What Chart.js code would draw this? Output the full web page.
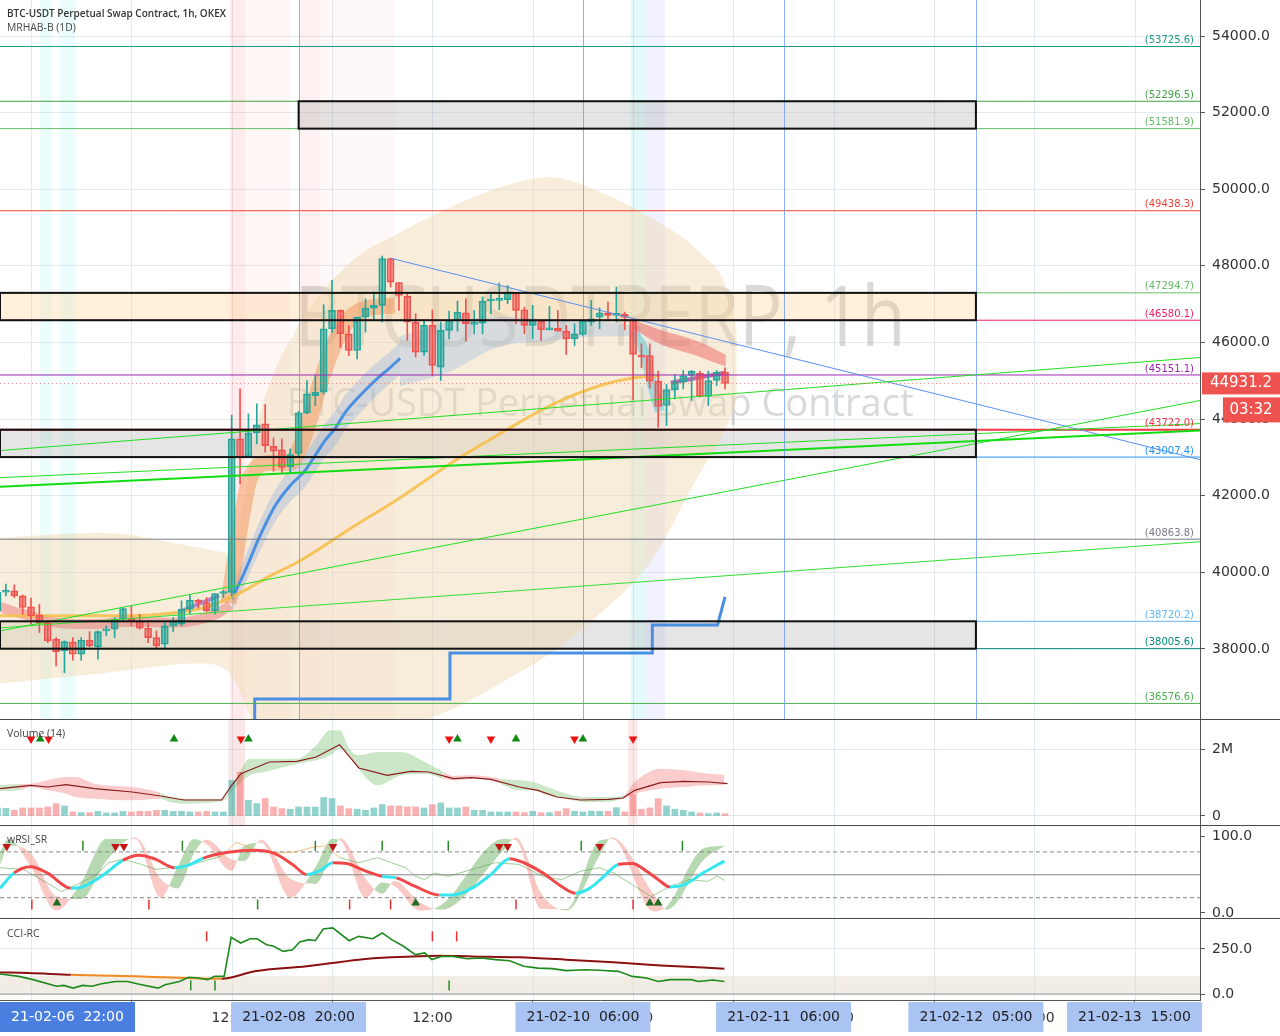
<!DOCTYPE html>
<html><head><meta charset="utf-8">
<script src="https://cdn.jsdelivr.net/npm/chart.js@4.4.1/dist/chart.umd.min.js"></script>
<style>
body{margin:0;background:#fff;}
#wrap{position:relative;width:1280px;height:1036px;overflow:hidden;background:#fff;font-family:"Open Sans","Liberation Sans",sans-serif;}
canvas{position:absolute;left:0;}
.lbl{position:absolute;left:7px;font-size:10.5px;color:#444;z-index:5;white-space:nowrap;transform-origin:0 0;}
.sep{position:absolute;left:0;width:1280px;height:1px;background:#4a4a4a;z-index:6;}
</style></head><body>
<div id="wrap">
<canvas id="cMain" width="1280" height="719" style="top:0px"></canvas>
<canvas id="cVol" width="1280" height="105" style="top:720px"></canvas>
<canvas id="cRsi" width="1280" height="93" style="top:826px"></canvas>
<canvas id="cCci" width="1280" height="118" style="top:918px"></canvas>
<div class="sep" style="top:719px"></div>
<div class="sep" style="top:825px"></div>
<div class="sep" style="top:918px"></div>
<div class="lbl" style="top:5px;font-weight:600;color:#333;font-size:11.5px;transform:scaleX(0.87)">BTC-USDT Perpetual Swap Contract, 1h, OKEX</div>
<div class="lbl" style="top:19px;font-size:11.5px;transform:scaleX(0.9)">MRHAB-B (1D)</div>
<div class="lbl" style="top:726px">Volume (14)</div>
<div class="lbl" style="top:832px">wRSI_SR</div>
<div class="lbl" style="top:926px">CCI-RC</div>
</div>
<script>
// ---------- axis window (hours since 21-02-07 00:00) ----------
const XMIN = 8.29, XMAX = 151.8;

// ---------- candles ----------
const candleHours = [8,9,10,11,12,13,14,15,16,17,18,19,20,21,22,23,24,25,26,27,28,29,30,31,32,33,34,35,36,37,38,39,40,41,42,43,44,45,46,47,48,49,50,51,52,53,54,55,56,57,58,59,60,61,62,63,64,65,66,67,68,69,70,71,72,73,74,75,76,77,78,79,80,81,82,83,84,85,86,87,88,89,90,91,92,93,94,95];
const opens  = [39000,39480,39516,39385,39098,38880,38688,38252,37947,38183,37860,38226,38052,38470,38514,38775,38800,38732,38540,38296,38122,38601,38645,39037,39272,39211,38993,39446,39473,43481,43019,43638,43873,43289,43194,42757,43106,44161,44614,44700,46357,46836,46227,45791,46662,46897,46967,48187,47560,47211,46532,45747,46444,45355,46314,46575,46776,46470,46505,47080,47100,47115,47290,46854,46444,46557,46330,46370,46296,46095,46209,46531,46662,46776,46706,46732,46593,45660,45660,44989,44353,44763,44963,45137,45198,44588,45006,45225];
const highs  = [39550,39690,39673,39412,39324,39168,38732,38296,38209,38296,38296,38453,38470,38601,38819,39080,39124,38906,38688,38470,38688,38819,39255,39412,39298,39342,39446,39534,44100,44788,44135,44396,44379,43507,43481,43220,44200,45006,45137,46985,47621,46850,46444,46662,47142,47316,48257,48200,47560,47272,46750,46575,46854,46532,46819,47080,47141,46836,47185,47272,47551,47490,47290,46923,46967,46557,46941,46836,46444,46488,46575,47098,46906,47055,47447,46793,46593,45965,45965,45251,44902,45163,45268,45268,45251,45251,45268,45338];
const lows   = [38950,39385,39342,38906,38645,38427,38165,37555,37381,37703,37703,38052,37730,38340,38296,38732,38601,38514,38165,38017,38017,38453,38601,38906,39063,38976,38906,39342,39380,42304,43019,43350,43133,42636,42609,42609,43045,44135,44353,44650,46253,45878,45660,45573,46270,46619,46532,47447,46837,46052,45617,45660,45137,45006,46095,46296,46035,46226,46226,46749,46854,47011,46488,46226,46095,46052,46330,46296,45686,45921,46183,46444,46357,46619,46532,46331,44501,45338,44815,43786,43830,44527,44789,44484,44571,44353,44876,44789];
const closes = [39480,39510,39385,39080,38862,38688,38209,37930,38191,37860,38226,38078,38453,38514,38775,39054,38740,38540,38296,38078,38601,38732,39037,39272,39211,38993,39446,39473,43481,43002,43638,43847,43307,43159,42740,43071,44161,44657,44700,46357,46836,46227,45791,46662,46897,46967,48187,47577,47229,46532,45747,46444,45399,46314,46575,46793,46488,46505,47080,47100,47115,47290,46836,46444,46575,46331,46357,46296,46095,46226,46557,46619,46776,46706,46750,46662,45686,45617,44989,44327,44763,44963,45137,45250,44588,45006,45225,44931.2];
const volumes = [240,230,170,240,240,240,270,370,300,120,100,100,140,90,90,140,120,140,140,170,170,140,140,120,120,140,120,120,1060,1310,470,370,520,270,220,200,270,270,270,550,520,300,220,200,170,240,340,300,300,270,270,240,340,390,240,240,270,170,170,120,120,120,120,100,140,100,100,140,220,140,120,140,140,140,250,120,640,200,240,520,300,200,170,120,90,70,90,70];
const LAST_PRICE = 44931.2;
const priceTicks = [38000, 40000, 42000, 44000, 46000, 48000, 50000, 52000, 54000];

// ---------- price levels / boxes ----------
const levels      = [53725.6, 52296.5, 51581.9, 49438.3, 47294.7, 46580.1, 45151.1, 43722.0, 43007.4, 40863.8, 38720.2, 38005.6, 36576.6];
const levelColors = ['#1a9a86','#43a047','#66bb6a','#f44336','#66bb6a','#e91e63','#9c27b0','#f23645','#2196f3','#787b86','#64b5f6','#00897b','#4caf50'];
const boxTop    = [52296.5, 47294.7, 43722.0, 38720.2];
const boxBottom = [51581.9, 46580.1, 43007.4, 38005.6];
const boxStart  = [44, XMIN, XMIN, XMIN];
const boxEnd    = [125, 125, 125, 125];
const boxFill   = ['rgba(160,160,160,0.28)','rgba(255,200,130,0.28)','rgba(160,160,160,0.28)','rgba(160,160,160,0.28)'];

// ---------- overlays (hour, price) ----------
const blobHours = [8.3, 20.3, 32.2, 35.8, 39.4, 44.2, 50.2, 56.1, 62.1, 68.1, 74.1, 80.1, 86.0, 92.0, 95.4, 96.4];
const blobTop   = [40900,41030,40640,40510,44170,46520,48090,48870,49530,50050,50310,49920,49270,48350,47300,46300];
const blobBot   = [37100,37360,37620,37360,36000,36000,36000,36000,36400,37100,37880,38930,40240,42590,43900,44500];

const blueHours = [36.04,37.6,39.39,41.19,42.98,44.77,45.97,47.16,48.36,49.56,51.35,53.15,54.94,56.14];
const bluePrice = [39307,40039,40954,41738,42261,42653,43046,43438,43752,44170,44614,45006,45346,45582];
const blueHi    = [39620,40400,41350,42150,42680,43080,43480,43880,44200,44620,45060,45440,45760,46000];
const blueLo    = [39000,39700,40560,41320,41840,42220,42610,43000,43300,43720,44160,44570,44930,45160];
const shadeHours = [56.1, 62.1, 68.1, 74.1, 80.1, 84.9];
const shadeHi    = [46160,46550,46680,46600,46550,46420];
const shadeLo    = [44850,45240,45900,46030,46160,46160];

const yellowHours = [8.29,20.25,32.22,37.0,40.59,44.18,50.16,56.14,62.12,68.1,74.08,80.06,83.65,87.24];
const yellowPrice = [38863,38863,39046,39464,39908,40300,41137,41947,42836,43621,44353,44876,45059,45137];

const orangeHours = [35.6,37.0,38.2,40.6,43.0,44.8,46.6,48.4,50.2,52.6,55.5];
const orangePrice = [39200,41160,42470,42860,42860,43640,44950,46000,46650,46910,46960];
const pinkHours = [8.3,10.0,12.0,14.0,17.0,20.0,23.0,26.0,29.0,32.0,34.5,35.8];
const pinkPrice = [39100,38970,38860,38730,38650,38650,38700,38700,38680,38760,38950,39150];
const cyanHours = [84.0,85.2,86.4,87.2];
const cyanPrice = [46240,45850,44800,44200];

const redRibHours = [83.9,87.1,91.9,95.1];
const redRibHi    = [46600,46340,46020,45680];
const redRibLo    = [46370,45970,45630,45370];
const purpleHours = [88.5, 95.0];
const purplePrice = [44950, 45210];
const purple2Hours = [29.8, 34.5];
const purple2Price = [38970, 39390];

const trendStart = [[XMIN,43177],[XMIN,42235],[XMIN,42470],[XMIN,38470],[XMIN,38549],[55,48200]];
const trendEnd   = [[XMAX,45608],[XMAX,43699],[XMAX,43882],[XMAX,44484],[XMAX,40797],[XMAX,42940]];
const trendColor = ['#22dd22','#11dd11','#22dd22','#22dd22','#33dd33','#5b8ff0'];
const trendWidth = [1,2,1,1,1,1];

const stepHours  = [38.75, 38.75, 62.1, 62.1, 86.3, 86.3, 94.1, 95.0];
const stepPrice  = [35500, 36693, 36693, 37895, 37895, 38627, 38627, 39359];

const markerHours = [-2, 44, 78, 102, 125, 159];
const markerText  = ['21-02-06  22:00','21-02-08  20:00','21-02-10  06:00','21-02-11  06:00','21-02-12  05:00','21-02-13  15:00'];
const timeTickHours = [12, 36, 60, 84, 108, 132];
const timeTickText  = ['12:00','12:00','12:00','12:00','12:00','12:00'];

const stripes = [[35.8,37.6,'rgba(255,60,60,0.10)'],[37.6,43.0,'rgba(255,80,80,0.05)'],[44.2,46.6,'rgba(255,80,80,0.08)'],[46.6,55.5,'rgba(255,80,80,0.04)'],[13.1,14.5,'rgba(0,230,230,0.08)'],[15.5,17.3,'rgba(0,230,230,0.08)'],[83.7,85.5,'rgba(0,220,220,0.10)'],[85.5,87.8,'rgba(120,120,255,0.10)']];

// ---------- volume pane ----------
const volMaHours = [8.3,12,14,16.2,19.6,24.1,27.5,30.3,34.8,36,37.1,40.5,43.8,46.1,48.9,51.2,54.6,57.4,59.6,62.5,64.7,67,70.4,72.6,74.9,77.7,81.1,82.8,84.2,87.3,90.1,93,95.3];
const volMa      = [816,915,866,935,816,716,597,478,478,915,1264,1612,1632,1761,2129,1433,1214,1333,1313,1114,1144,1094,866,766,567,478,497,537,766,995,1035,1015,965];
const volBandHours = [8.29,10.55,11.96,13.94,16.19,17.32,19.58,24.09,27.48,28.61,30.3,34.81,35.94,38.2,39.89,43.84,46.1,47.79,48.92,50.05,51.18,53.44,56.26,59.08,61.34,62.47,64.73,66.99,68.12,70.37,72.07,73.76,76.01,78.27,80.53,82.79,84.2,87.3,90.12,92.94,94.92];
const volBandHi = [915,955,965,1065,1164,1164,965,866,697,567,517,517,816,1711,1711,1711,2109,2557,2557,2010,1811,1910,1910,1612,1313,1194,1214,1164,1114,1065,1015,866,667,567,567,597,1015,1411,1363,1264,1234];
const volBandLo = [736,766,866,766,667,567,517,468,517,418,368,438,716,1214,1313,1562,1662,1811,2010,1811,1413,915,1214,1264,1114,1065,1114,1065,965,766,766,617,517,418,418,517,667,816,866,915,915];
const volBandUp = [1,0,0,0,0,0,0,0,1,1,1,1,1,1,1,1,1,1,1,1,1,1,1,1,0,0,0,0,1,1,1,1,1,1,1,0,0,0,0,0,0];
const volSigHours = [12,13.1,14.1,29.1,37.1,38,62,63,67,70,77,78,84];
const volSigUp    = [0,1,0,1,0,1,0,1,0,1,0,1,0];
const volStripes = [[35.6,37.6],[83.4,84.5]];

// ---------- wRSI pane ----------
const rsiHours = [8.29,9.99,11.96,13.93,16.76,17.89,20.71,22.97,24.94,26.92,29.18,30.87,32.56,35.38,38.77,41.02,43.28,44.97,46.67,48.08,49.77,51.75,54.0,55.7,57.96,60.78,62.47,64.73,66.99,69.24,70.93,73.19,75.45,77.14,78.84,80.53,82.22,83.92,85.61,87.02,88.43,90.13,92.38,94.92];
const rsiValue = [32.5,52.5,60.5,52.5,32.5,33.4,50.3,68.9,75.6,70.3,59.2,62.7,71.6,79.1,82.2,78.3,63.6,50.3,56.1,65.8,64.9,56.1,48.1,45.9,34.7,23.6,23.6,32.5,50.3,71.2,65.8,52.5,34.7,25.9,32.5,48.1,63.6,64.9,54.7,43.6,33.9,37.0,52.5,68.0];
const rsiRed   = [0,1,1,1,0,0,0,1,1,1,0,0,1,1,1,1,1,0,0,1,1,1,0,1,1,0,0,0,0,1,1,1,1,0,0,0,1,1,1,1,0,0,0,0];
const fastHours = [8.3,9.3,12,15,18,21,24.5,27.5,29.5,31.5,33,36,37.5,39.5,43,46,48,49,52,54,55.5,58.5,61,68.5,70,73,76,80,81.5,86.5,88,92.5,95];
const fastA     = [80,97,60,3,40,97,97,20,60,97,90,55,88,92,20,60,97,95,20,40,35,3,10,97,95,5,5,95,97,2,8,85,88];
const fastB     = [62,88,78,22,18,68,99,45,32,78,96,70,68,96,45,38,78,98,45,25,42,14,4,82,99,26,3,75,99,24,4,70,88];
const thinHours = [8.29,11.11,13.93,15.63,17.88,19.58,21.27,22.96,25.22,26.91,28.6,30.3,31.99,34.81,36.51,37.63,38.76,41.02,43.27,45.53,47.22,48.92,51.18,53.44,55.13,56.82,57.95,59.08,60.21,61.9,64.72,67.54,70.37,73.19,75.45,77.71,79.96,81.66,83.92,86.17,88.43,90.69,92.94,94.07,94.92];
const thinValue = [59.2,57,39.2,28.1,39.2,48.1,65.8,70.3,63.6,57,59.2,61.4,65.8,74.7,92.5,88,81.4,79.1,79.1,85.8,88,72.5,65.8,72.5,65.8,59.2,48.1,43.6,52.5,48.1,57,65.8,63.6,48.1,43.6,54.7,59.2,52.5,37,21.4,34.7,43.6,41.4,48.1,42.7];
const thinOrange = [0,0,0,0,0,0,0,0,0,0,0,0,0,1,1,1,1,1,1,1,1,0,0,0,0,0,0,0,0,0,0,0,0,0,0,0,0,0,0,0,0,0,0,0,0];
const rsiDownHours = [9.1,22.1,23.1,48.1,68,69,80];
const rsiUpHours   = [15.1,58,86,87];
const rsiGTopHours = [18.2,30.1,46,54,61.9,77.8,89.9];
const rsiRBotHours = [12.1,26.1,50.1,55,70,84];
const rsiGBotHours = [39.1];

// ---------- CCI pane ----------
const cciHours = [8.29,10.55,12.24,15.06,15.91,17.04,18.17,19.3,20.42,22.12,23.53,25.22,27.2,28.04,29.74,30.87,32.0,33.12,33.97,35.1,35.94,37.07,38.2,39.04,40.17,41.02,42.15,43.28,44.13,45.26,45.99,46.95,48.08,50.05,51.18,52.87,54.0,55.13,56.54,57.96,59.08,59.93,61.06,62.47,64.16,65.86,67.55,69.24,70.93,72.63,74.32,76.01,78.27,79.96,82.22,83.92,85.61,87.02,88.43,90.97,91.82,93.52,94.92];
const cciValue = [111,98,80,43,48,33,48,43,57,70,70,52,33,52,70,93,89,80,98,98,315,283,307,307,274,265,237,246,289,302,296,361,367,296,320,307,339,302,265,219,228,191,209,209,196,200,191,185,154,144,141,130,135,132,126,98,89,70,80,80,70,78,70];
const cciSigHours = [8.29,11.68,16.76,25.22,34.81,38.77,44.97,51.18,55.13,60.78,64.73,70.37,76.01,81.66,87.3,94.92];
const cciSig      = [120,117,107,98,85,126,154,191,204,213,209,204,191,176,159,141];
const cciSigOrange= [0,0,1,1,0,0,0,0,0,0,0,0,0,0,0,0];
const cciRedHours = [33,60,62.9];
const cciGreenHours = [31.1,34,62];

// ================= helpers =================
const UP = '#26a69a', DN = '#ef5350';
const isUp = i => closes[i] >= opens[i];
const pts = (hs, vs) => hs.map((h, i) => ({x: h, y: vs[i]}));
const flat = (v, hs) => hs.map(h => ({x: h, y: v}));
const AXIS_FONT = '14px "DejaVu Sans", sans-serif';

function xScale() {
  return {type: 'linear', min: XMIN, max: XMAX, offset: false, display: false};
}
function yScale(min, max, ticks, gridColor) {
  return {type: 'linear', position: 'right', min: min, max: max,
    afterFit: s => { s.width = 80; },
    afterBuildTicks: s => { s.ticks = ticks.map(v => ({value: v})); },
    border: {display: true, color: '#555'},
    grid: {color: gridColor, tickLength: 5, drawTicks: true, tickColor: '#555'},
    ticks: {display: false}};
}
const yLabels = (ticks, fmt) => ({
  id: 'ylabels',
  afterDraw(chart) {
    const {ctx, chartArea: a, scales: {y}} = chart;
    ctx.save(); ctx.font = AXIS_FONT; ctx.fillStyle = '#333'; ctx.textAlign = 'left'; ctx.textBaseline = 'middle';
    ticks.forEach(v => ctx.fillText(fmt(v), a.right + 12, y.getPixelForValue(v)));
    ctx.restore();
  }
});
const gridPlugin = {
  id: 'vgrid',
  beforeDatasetsDraw(chart) {
    const {ctx, chartArea: a, scales: {x}} = chart;
    ctx.save();
    ctx.strokeStyle = 'rgba(200,215,230,0.55)';
    ctx.lineWidth = 1;
    for (let h = 12; h < XMAX; h += 12) {
      const px = Math.round(x.getPixelForValue(h)) + 0.5;
      ctx.beginPath(); ctx.moveTo(px, a.top); ctx.lineTo(px, a.bottom); ctx.stroke();
    }
    ctx.restore();
  }
};
const baseOpts = {responsive: false, animation: false, devicePixelRatio: 1,
  layout: {padding: 0, autoPadding: false}, plugins: {legend: {display: false}, tooltip: {enabled: false}},
  elements: {point: {radius: 0}, line: {tension: 0}}};

// ================= MAIN CHART =================
const mainDs = [];
function addBand(hs, lo, hi, color, order) {
  mainDs.push({type: 'line', data: pts(hs, lo), borderWidth: 0, pointRadius: 0, fill: false, order: order, cubicInterpolationMode: 'monotone'});
  mainDs.push({type: 'line', data: pts(hs, hi), borderWidth: 0, pointRadius: 0, fill: '-1', backgroundColor: color, order: order, cubicInterpolationMode: 'monotone'});
}
addBand(blobHours, blobBot, blobTop, 'rgba(240,215,175,0.45)', 100);
addBand(shadeHours, shadeLo, shadeHi, 'rgba(140,180,225,0.30)', 95);
addBand(blueHours, blueLo, blueHi, 'rgba(120,165,225,0.30)', 94);
addBand(redRibHours, redRibLo, redRibHi, 'rgba(239,83,80,0.45)', 90);
mainDs.push({type: 'line', data: pts(pinkHours, pinkPrice), borderColor: 'rgba(236,110,110,0.45)', borderWidth: 10, pointRadius: 0, order: 91, cubicInterpolationMode: 'monotone'});
mainDs.push({type: 'line', data: pts(orangeHours, orangePrice), borderColor: 'rgba(244,150,90,0.5)', borderWidth: 16, pointRadius: 0, order: 91, cubicInterpolationMode: 'monotone'});
mainDs.push({type: 'line', data: pts(cyanHours, cyanPrice), borderColor: 'rgba(80,200,215,0.5)', borderWidth: 10, pointRadius: 0, order: 91, cubicInterpolationMode: 'monotone'});
mainDs.push({type: 'line', data: pts(yellowHours, yellowPrice), borderColor: 'rgba(247,190,70,0.85)', borderWidth: 3, pointRadius: 0, order: 80, cubicInterpolationMode: 'monotone'});
mainDs.push({type: 'line', data: pts(blueHours, bluePrice), borderColor: '#4a90e2', borderWidth: 3, pointRadius: 0, order: 80, cubicInterpolationMode: 'monotone'});
mainDs.push({type: 'line', data: pts(purpleHours, purplePrice), borderColor: 'rgba(175,70,170,0.8)', borderWidth: 4, pointRadius: 0, order: 80});
mainDs.push({type: 'line', data: pts(purple2Hours, purple2Price), borderColor: 'rgba(150,90,190,0.7)', borderWidth: 4, pointRadius: 0, order: 80});
mainDs.push({type: 'line', data: pts(stepHours, stepPrice), borderColor: '#4a90e2', borderWidth: 3, pointRadius: 0, order: 6});
mainDs.push({type: 'bar', data: candleHours.map((h, i) => ({x: h, y: [lows[i], highs[i]]})),
  backgroundColor: candleHours.map((h, i) => isUp(i) ? UP : DN), barThickness: 1, grouped: false, order: 5});
mainDs.push({type: 'bar', data: candleHours.map((h, i) => ({x: h, y: [opens[i], closes[i]]})),
  backgroundColor: candleHours.map((h, i) => isUp(i) ? 'rgba(38,166,154,0.55)' : 'rgba(239,83,80,0.5)'),
  borderColor: candleHours.map((h, i) => isUp(i) ? UP : DN), borderWidth: 1, borderSkipped: false,
  barThickness: 7, grouped: false, minBarLength: 2, order: 4});
levels.forEach((lv, i) => mainDs.push({type: 'line', data: flat(lv, [XMIN, XMAX]), borderColor: levelColors[i], borderWidth: (lv === 43722.0 ? 2 : 1), pointRadius: 0, order: 3}));
trendStart.forEach((s, i) => mainDs.push({type: 'line', data: [{x: s[0], y: s[1]}, {x: trendEnd[i][0], y: trendEnd[i][1]}], borderColor: trendColor[i], borderWidth: trendWidth[i], pointRadius: 0, order: 2}));

const mainPlugin = {
  id: 'mainDeco',
  beforeDatasetsDraw(chart) {
    const {ctx, chartArea: a, scales: {x, y}} = chart;
    ctx.save();
    stripes.forEach(s => {
      const x0 = x.getPixelForValue(s[0]), x1 = x.getPixelForValue(s[1]);
      ctx.fillStyle = s[2]; ctx.fillRect(x0, a.top, x1 - x0, a.bottom - a.top);
    });
    ctx.fillStyle = 'rgba(120,120,120,0.28)';
    ctx.textAlign = 'center'; ctx.textBaseline = 'middle';
    ctx.save(); ctx.translate(600, 322); ctx.scale(0.86, 1);
    ctx.font = '84px "Open Sans", sans-serif';
    ctx.fillText('BTCUSDTPERP, 1h', 0, 0);
    ctx.restore();
    ctx.font = '38px "Open Sans", sans-serif';
    ctx.fillText('BTC-USDT Perpetual Swap Contract', 600, 405);
    boxTop.forEach((t, i) => {
      const x0 = x.getPixelForValue(boxStart[i]), x1 = x.getPixelForValue(boxEnd[i]);
      const y0 = y.getPixelForValue(t), y1 = y.getPixelForValue(boxBottom[i]);
      ctx.fillStyle = boxFill[i]; ctx.fillRect(x0, y0, x1 - x0, y1 - y0);
    });
    ctx.restore();
  },
  afterDatasetsDraw(chart) {
    const {ctx, chartArea: a, scales: {x, y}} = chart;
    ctx.save();
    ctx.strokeStyle = 'rgba(100,150,240,0.75)'; ctx.lineWidth = 1;
    markerHours.forEach(h => {
      const px = Math.round(x.getPixelForValue(h)) + 0.5;
      if (px > a.left && px < a.right) { ctx.beginPath(); ctx.moveTo(px, a.top); ctx.lineTo(px, a.bottom); ctx.stroke(); }
    });
    ctx.strokeStyle = '#111'; ctx.lineWidth = 2;
    boxTop.forEach((t, i) => {
      const x0 = x.getPixelForValue(boxStart[i]), x1 = x.getPixelForValue(boxEnd[i]);
      const y0 = y.getPixelForValue(t), y1 = y.getPixelForValue(boxBottom[i]);
      ctx.strokeRect(x0, y0, x1 - x0, y1 - y0);
    });
    const ly = Math.round(y.getPixelForValue(LAST_PRICE)) + 0.5;
    ctx.strokeStyle = 'rgba(239,83,80,0.6)'; ctx.lineWidth = 1; ctx.setLineDash([1, 3]);
    ctx.beginPath(); ctx.moveTo(a.left, ly); ctx.lineTo(a.right, ly); ctx.stroke();
    ctx.setLineDash([]);
    ctx.font = '10px "DejaVu Sans", sans-serif'; ctx.textAlign = 'right'; ctx.textBaseline = 'bottom';
    levels.forEach((lv, i) => {
      ctx.fillStyle = levelColors[i];
      ctx.fillText('(' + lv.toFixed(1) + ')', a.right - 6, y.getPixelForValue(lv) - 1);
    });
    ctx.restore();
  },
  afterDraw(chart) {
    const {ctx, chartArea: a, scales: {y}} = chart;
    const ly = y.getPixelForValue(LAST_PRICE);
    ctx.save();
    ctx.fillStyle = '#ef5350';
    ctx.fillRect(a.right + 2, ly - 11, 78, 22);
    ctx.fillRect(a.right + 23, ly + 14, 57, 25);
    ctx.fillStyle = '#fff'; ctx.font = '15px "DejaVu Sans", sans-serif'; ctx.textAlign = 'center'; ctx.textBaseline = 'middle';
    ctx.fillText(LAST_PRICE.toFixed(1), a.right + 41, ly);
    ctx.fillText('03:32', a.right + 51, ly + 27);
    ctx.restore();
  }
};

new Chart(document.getElementById('cMain'), {
  type: 'bar',
  data: {datasets: mainDs},
  options: Object.assign({}, baseOpts, {
    scales: {x: xScale(), y: yScale(36170, 54940, priceTicks, 'rgba(210,220,232,0.6)')}
  }),
  plugins: [gridPlugin, yLabels(priceTicks, v => v.toFixed(1)), mainPlugin]
});

// ================= VOLUME =================
const stripePlugin = stripesArr => ({
  id: 'stripes',
  beforeDatasetsDraw(chart) {
    const {ctx, chartArea: a, scales: {x}} = chart;
    ctx.save(); ctx.fillStyle = 'rgba(230,150,150,0.22)';
    stripesArr.forEach(s => { const x0 = x.getPixelForValue(s[0]), x1 = x.getPixelForValue(s[1]); ctx.fillRect(x0, a.top, x1 - x0, a.bottom - a.top); });
    ctx.restore();
  }
});
const volTicks = [0, 2000];
const volDs = [
  {type: 'line', data: pts(volBandHours, volBandLo), borderWidth: 0, pointRadius: 0, fill: false, order: 50, cubicInterpolationMode: 'monotone'},
  {type: 'line', data: pts(volBandHours, volBandHi), borderWidth: 0, pointRadius: 0, fill: '-1', order: 50, cubicInterpolationMode: 'monotone',
    backgroundColor: 'rgba(120,190,110,0.38)',
    segment: {backgroundColor: c => volBandUp[c.p0DataIndex] ? 'rgba(120,190,110,0.38)' : 'rgba(240,110,110,0.35)'}},
  {type: 'bar', data: candleHours.map((h, i) => ({x: h, y: volumes[i]})), barThickness: 6, grouped: false,
    backgroundColor: candleHours.map((h, i) => isUp(i) ? 'rgba(38,166,154,0.5)' : 'rgba(239,83,80,0.45)'), order: 40},
  {type: 'line', data: pts(volMaHours, volMa), borderColor: '#8b1c1c', borderWidth: 1.2, pointRadius: 0, order: 10},
  {type: 'line', data: volSigHours.map(h => ({x: h, y: 2300})), showLine: false, order: 1,
    pointStyle: 'triangle', pointRadius: 5, pointRotation: volSigHours.map((h, i) => volSigUp[i] ? 0 : 180),
    pointBackgroundColor: volSigHours.map((h, i) => volSigUp[i] ? '#118811' : '#ee1111'), pointBorderWidth: 0}
];
new Chart(document.getElementById('cVol'), {
  type: 'bar', data: {datasets: volDs},
  options: Object.assign({}, baseOpts, {scales: {x: xScale(), y: yScale(-269, 2866, volTicks, 'rgba(210,220,232,0.7)')}}),
  plugins: [gridPlugin, stripePlugin(volStripes), yLabels(volTicks, v => v === 0 ? '0' : '2M')]
});

// ================= wRSI =================
const rsiTicks = [0, 100];
const rsiDs = [
  {type: 'line', data: pts(fastHours, fastB), borderWidth: 0, pointRadius: 0, fill: false, order: 60, cubicInterpolationMode: 'monotone'},
  {type: 'line', data: pts(fastHours, fastA), borderWidth: 0, pointRadius: 0, order: 60, cubicInterpolationMode: 'monotone',
    fill: {target: 0, above: 'rgba(95,170,85,0.45)', below: 'rgba(245,120,110,0.40)'}},
  {type: 'line', data: flat(80, [XMIN, XMAX]), borderColor: '#888', borderDash: [4, 3], borderWidth: 1, pointRadius: 0, order: 30},
  {type: 'line', data: flat(20, [XMIN, XMAX]), borderColor: '#888', borderDash: [4, 3], borderWidth: 1, pointRadius: 0, order: 30},
  {type: 'line', data: flat(50, [XMIN, XMAX]), borderColor: '#888', borderWidth: 1, pointRadius: 0, order: 30},
  {type: 'line', data: pts(thinHours, thinValue), borderWidth: 1, pointRadius: 0, order: 20,
    borderColor: 'rgba(80,160,70,0.55)', segment: {borderColor: c => thinOrange[c.p0DataIndex] ? 'rgba(245,170,90,0.75)' : 'rgba(80,160,70,0.55)'}},
  {type: 'line', data: pts(rsiHours, rsiValue), borderWidth: 3, pointRadius: 0, order: 10, cubicInterpolationMode: 'monotone',
    borderColor: '#33e6f0', segment: {borderColor: c => rsiRed[c.p0DataIndex] ? '#f04848' : '#33e6f0'}},
  {type: 'line', data: flat(87, rsiDownHours), showLine: false, pointStyle: 'triangle', pointRadius: 5, pointRotation: 180, pointBackgroundColor: '#c01818', pointBorderWidth: 0, order: 1},
  {type: 'line', data: flat(13, rsiUpHours), showLine: false, pointStyle: 'triangle', pointRadius: 5, pointBackgroundColor: '#1f6e1f', pointBorderWidth: 0, order: 1},
  {type: 'line', data: flat(88, rsiGTopHours), showLine: false, pointStyle: 'line', pointRotation: 90, pointRadius: 5, pointBorderColor: '#2a8a2a', pointBorderWidth: 1.5, order: 1},
  {type: 'line', data: flat(11, rsiRBotHours), showLine: false, pointStyle: 'line', pointRotation: 90, pointRadius: 5, pointBorderColor: '#e83030', pointBorderWidth: 1.5, order: 1},
  {type: 'line', data: flat(11, rsiGBotHours), showLine: false, pointStyle: 'line', pointRotation: 90, pointRadius: 5, pointBorderColor: '#2a8a2a', pointBorderWidth: 1.5, order: 1}
];
new Chart(document.getElementById('cRsi'), {
  type: 'bar', data: {datasets: rsiDs},
  options: Object.assign({}, baseOpts, {scales: {x: xScale(), y: yScale(-8, 114, rsiTicks, 'rgba(0,0,0,0)')}}),
  plugins: [gridPlugin, yLabels(rsiTicks, v => v.toFixed(1))]
});

// ================= CCI + time axis =================
const cciTicks = [0, 250];
const cciPlugin = {
  id: 'cciDeco',
  beforeDatasetsDraw(chart) {
    const {ctx, chartArea: a, scales: {y}} = chart;
    ctx.save(); ctx.fillStyle = 'rgba(225,215,195,0.45)';
    const y0 = y.getPixelForValue(100), y1 = y.getPixelForValue(0);
    ctx.fillRect(a.left, y0, a.right - a.left, y1 - y0);
    ctx.restore();
  },
  afterDraw(chart) {
    const {ctx, chartArea: a, scales: {x}} = chart;
    ctx.save();
    ctx.font = AXIS_FONT; ctx.textAlign = 'center'; ctx.textBaseline = 'middle';
    ctx.fillStyle = '#333';
    timeTickHours.forEach((h, i) => ctx.fillText(timeTickText[i], x.getPixelForValue(h), a.bottom + 18));
    markerHours.forEach((h, i) => {
      let cx = x.getPixelForValue(h);
      const w = 135;
      cx = Math.max(a.left + w / 2, Math.min(a.right + 2 - w / 2, cx));
      ctx.fillStyle = i === 0 ? '#4a7fe0' : '#a9c4f2';
      ctx.fillRect(cx - w / 2, a.bottom + 2, w, 30);
      ctx.fillStyle = i === 0 ? '#fff' : '#222';
      ctx.fillText(markerText[i], cx, a.bottom + 17);
    });
    ctx.restore();
  }
};
const cciDs = [
  {type: 'line', data: flat(0, [XMIN, XMAX]), borderColor: '#9a9a9a', borderWidth: 1, pointRadius: 0, order: 30},
  {type: 'line', data: pts(cciSigHours, cciSig), borderWidth: 2, pointRadius: 0, order: 20, cubicInterpolationMode: 'monotone',
    borderColor: '#8b1010', segment: {borderColor: c => cciSigOrange[c.p0DataIndex] ? '#f08a20' : '#8b1010'}},
  {type: 'line', data: pts(cciHours, cciValue), borderColor: '#1e8a1e', borderWidth: 1.6, pointRadius: 0, order: 10},
  {type: 'line', data: flat(320, cciRedHours), showLine: false, pointStyle: 'line', pointRotation: 90, pointRadius: 5, pointBorderColor: '#e83030', pointBorderWidth: 1.5, order: 1},
  {type: 'line', data: flat(48, cciGreenHours), showLine: false, pointStyle: 'line', pointRotation: 90, pointRadius: 5, pointBorderColor: '#2a8a2a', pointBorderWidth: 1.5, order: 1}
];
new Chart(document.getElementById('cCci'), {
  type: 'bar', data: {datasets: cciDs},
  options: Object.assign({}, baseOpts, {scales: {
    x: {type: 'linear', min: XMIN, max: XMAX, offset: false, position: 'bottom',
      afterFit: s => { s.height = 36; },
      afterBuildTicks: s => { s.ticks = timeTickHours.map(v => ({value: v})); },
      border: {display: true, color: '#555'},
      grid: {drawOnChartArea: false, tickLength: 4, tickColor: '#555'},
      ticks: {display: false}},
    y: yScale(-33, 422, cciTicks, 'rgba(210,220,232,0.7)')}}),
  plugins: [gridPlugin, cciPlugin, yLabels(cciTicks, v => v.toFixed(1))]
});
</script>
</body></html>
